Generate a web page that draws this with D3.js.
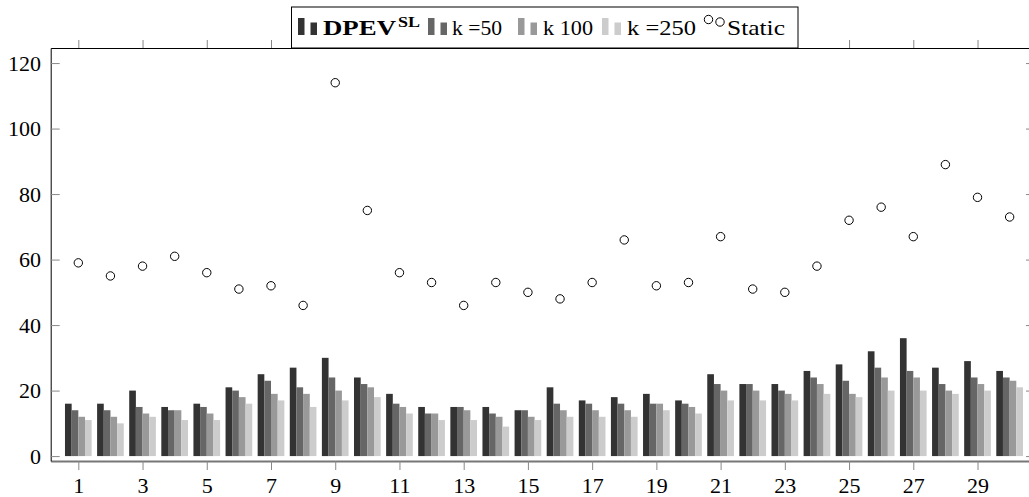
<!DOCTYPE html>
<html lang="en">
<head>
<meta charset="UTF-8">
<title>Chart</title>
<style>
  body { margin: 0; background: #fff; }
  svg text { font-family: "Liberation Serif", "DejaVu Serif", serif; fill: #000; }
</style>
</head>
<body>
<div id="chart"></div>
<script src="https://d3js.org/d3.v7.min.js"></script>
<script>

// data
var groups = [1,2,3,4,5,6,7,8,9,10,11,12,13,14,15,16,17,18,19,20,21,22,23,24,25,26,27,28,29,30];
var dpev   = [16,16,20,15,16,21,25,27,30,24,19,15,15,15,14,21,17,18,19,17,25,22,22,26,28,32,36,27,29,26];
var k50    = [14,14,15,14,15,20,23,21,24,22,16,13,15,13,14,16,16,16,16,16,22,22,20,24,23,27,26,22,24,24];
var k100   = [12,12,13,14,13,18,19,19,20,21,15,13,14,12,12,14,14,14,16,15,20,20,19,22,19,24,24,20,22,23];
var k250   = [11,10,12,11,11,16,17,15,17,18,13,11,11,9,11,12,12,12,14,13,17,17,17,19,18,20,20,19,20,21];
var staticVals = [59,55,58,61,56,51,52,46,114,75,56,53,46,53,50,48,53,66,52,53,67,51,50,58,72,76,67,89,79,73];
var xTicks = [1,3,5,7,9,11,13,15,17,19,21,23,25,27,29];
var yTicks = [0,20,40,60,80,100,120];

var seriesVals = [dpev, k50, k100, k250];
var seriesColors = ["#333333", "#666666", "#999999", "#cccccc"];

var width = 1029, height = 497;
// plot box (note: "top" is taken by window.top, so use other names)
var plotL = 50.7, plotR = 1035, plotT = 48, plotB = 461;

var svg = d3.select("#chart").append("svg")
    .attr("width", width)
    .attr("height", height);

var x = d3.scaleLinear().domain([0.14, 30.79]).range([plotL, plotR]);
var y = d3.scaleLinear().domain([-1.5, 124.6]).range([plotB, plotT]);

var bw = 0.2077; // bar width in x units

// bars
seriesVals.forEach(function(vals, j) {
  svg.append("g").selectAll("rect")
    .data(vals)
    .enter()
    .append("rect")
    .attr("x", function(d, i) { return x(groups[i] + (j - 2) * bw); })
    .attr("width", x(bw) - x(0))
    .attr("y", function(d) { return y(d); })
    .attr("height", function(d) { return y(0) - y(d); })
    .attr("fill", seriesColors[j]);
});

// static points
svg.append("g").selectAll("circle")
  .data(staticVals)
  .enter()
  .append("circle")
  .attr("cx", function(d, i) { return x(groups[i]); })
  .attr("cy", function(d) { return y(d); })
  .attr("r", 4.2)
  .attr("fill", "none")
  .attr("stroke", "#000")
  .attr("stroke-width", 1);

// axes
var gBottom = svg.append("g").attr("transform", "translate(0," + plotB + ")")
  .call(d3.axisBottom(x).tickValues(xTicks).tickSize(9).tickSizeOuter(0).tickPadding(7.5));
gBottom.select(".domain").attr("stroke", "#777").attr("stroke-width", 2);

var gTop = svg.append("g").attr("transform", "translate(0," + plotT + ")")
  .call(d3.axisTop(x).tickValues(xTicks).tickSize(8).tickSizeOuter(0).tickFormat(""));
gTop.select(".domain").attr("stroke", "#000");

var gLeft = svg.append("g").attr("transform", "translate(" + plotL + ",0)")
  .call(d3.axisLeft(y).tickValues(yTicks).tickSizeInner(-9).tickSizeOuter(0).tickPadding(9.7));
gLeft.select(".domain").attr("stroke", "#000");

var gRight = svg.append("g").attr("transform", "translate(" + plotR + ",0)")
  .call(d3.axisRight(y).tickValues(yTicks).tickSizeInner(-9).tickSizeOuter(0).tickFormat(""));

svg.selectAll(".tick line").attr("stroke", "#888");
svg.selectAll(".tick text").attr("font-size", 22).attr("font-family", "Liberation Serif");

// legend
var lg = svg.append("g");
lg.append("rect")
  .attr("x", 291.5).attr("y", 7).attr("width", 506.5).attr("height", 41)
  .attr("fill", "#fff").attr("stroke", "#000");

var legendItems = [
  {bx: 298, tx: 323, label: "DPEV", w: 73, color: seriesColors[0]},
  {bx: 428, tx: 452, label: "k =50", w: 50, color: seriesColors[1]},
  {bx: 518, tx: 543, label: "k 100", w: 50, color: seriesColors[2]},
  {bx: 602, tx: 627, label: "k =250", w: 69, color: seriesColors[3]}
];
legendItems.forEach(function(it, j) {
  lg.append("rect").attr("x", it.bx).attr("y", 18).attr("width", 6.5).attr("height", 17).attr("fill", it.color);
  lg.append("rect").attr("x", it.bx + 12.5).attr("y", 22.5).attr("width", 6.5).attr("height", 12.5).attr("fill", it.color);
  var t = lg.append("text").attr("x", it.tx).attr("y", 35).attr("font-size", 22)
    .attr("textLength", it.w).attr("lengthAdjust", "spacingAndGlyphs").text(it.label);
  if (j === 0) {
    t.attr("font-weight", "bold");
    lg.append("text").attr("x", 398).attr("y", 27).attr("font-size", 15)
      .attr("font-weight", "bold").attr("textLength", 22).attr("lengthAdjust", "spacingAndGlyphs").text("SL");
  }
});
lg.append("circle").attr("cx", 708.5).attr("cy", 19.5).attr("r", 4.2).attr("fill", "none").attr("stroke", "#000");
lg.append("circle").attr("cx", 720).attr("cy", 22).attr("r", 4.2).attr("fill", "none").attr("stroke", "#000");
lg.append("text").attr("x", 727).attr("y", 35).attr("font-size", 22)
  .attr("textLength", 58).attr("lengthAdjust", "spacingAndGlyphs").text("Static");

</script>
</body>
</html>
